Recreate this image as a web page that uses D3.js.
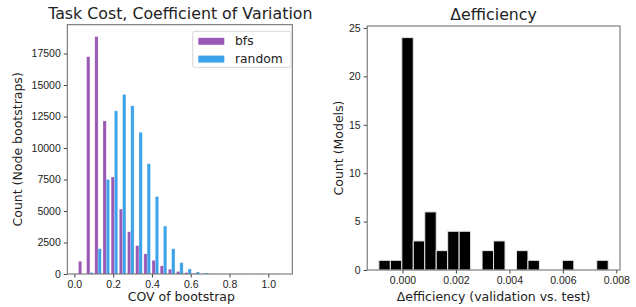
<!DOCTYPE html>
<html>
<head>
<meta charset="utf-8">
<script src="https://cdn.jsdelivr.net/npm/d3@7"></script>
<style>
  body { margin: 0; background: #fff; }
  svg { font-family: "DejaVu Sans", sans-serif; }
  .axis text { fill: #222; font-size: 10.5px; }
  .axis path, .axis line { stroke: #444; }
</style>
</head>
<body>
<div class="chart"></div>
<script>
// Left histogram: task cost COV, 25 bins shared by both series
const covBinLo = 0.017
const covBinHi = 1.071
const covBins = 25
const bfsCounts = [1000, 17250, 18850, 12150, 7700, 5150, 3350, 2250, 1600, 1080, 650, 380, 200, 110, 60, 30, 15, 8, 5, 3, 2, 1, 1, 0, 1]
const randomCounts = [0, 120, 2000, 7500, 12950, 14250, 13350, 11250, 8750, 6150, 3800, 2000, 900, 400, 160, 80, 30, 12, 5, 2, 1, 0, 0, 0, 1]
const seriesNames = ['bfs', 'random']
const seriesColors = ['#9b59b6', '#3ca2ea']
const covTicks = [0.0, 0.2, 0.4, 0.6, 0.8, 1.0]
const countTicks = [0, 2500, 5000, 7500, 10000, 12500, 15000, 17500]

// Right histogram: delta efficiency, 20 bins
const effBinLo = -0.000883
const effBinHi = 0.007697
const effBins = 20
const effCounts = [1, 1, 24, 3, 6, 2, 4, 4, 0, 2, 3, 0, 2, 1, 0, 0, 1, 0, 0, 1]
const effTicks = [0.000, 0.002, 0.004, 0.006, 0.008]
const modelTicks = [0, 5, 10, 15, 20, 25]

const width = 636
const height = 307
const labelSize = '12.5px'
const titleSize = '15.8px'

const svg = d3.select('.chart')
    .append('svg')
    .attr('width', width)
    .attr('height', height)

const frame = (g, x0, x1, y0, y1) => {
    g.append('rect')
        .attr('x', x0).attr('y', y0)
        .attr('width', x1 - x0).attr('height', y1 - y0)
        .attr('fill', 'none')
        .attr('stroke', '#666')
        .attr('stroke-width', 1)
}

// ---------- left panel ----------
const L = { left: 67.3, right: 292.3, top: 24.7, bottom: 274 }
const xL = d3.scaleLinear().domain([-0.0363, 1.1237]).range([L.left, L.right])
const yL = d3.scaleLinear().domain([0, 19790]).range([L.bottom, L.top])

const covW = (covBinHi - covBinLo) / covBins

const gL = svg.append('g')
;[bfsCounts, randomCounts].forEach((counts, s) => {
    const bins = counts.map((c, i) => ({ x0: covBinLo + i * covW, c }))
        .filter(d => d.c > 0)
    gL.selectAll('.bar' + s)
        .data(bins)
        .enter()
        .append('rect')
        .attr('x', d => xL(d.x0 + covW * (0.1 + 0.4 * s)))
        .attr('width', xL(covW * 0.4) - xL(0))
        .attr('y', d => yL(d.c))
        .attr('height', d => yL(0) - yL(d.c))
        .attr('fill', seriesColors[s])
        .attr('stroke', 'rgba(255,255,255,0.35)')
        .attr('stroke-width', 0.6)
})

gL.append('g')
    .attr('class', 'axis')
    .attr('transform', `translate(0,${L.bottom})`)
    .call(d3.axisBottom(xL).tickValues(covTicks).tickFormat(d3.format('.1f')).tickSizeOuter(0).tickSize(3.5).tickPadding(3))
    .call(g => g.select('.domain').remove())

gL.append('g')
    .attr('class', 'axis')
    .attr('transform', `translate(${L.left},0)`)
    .call(d3.axisLeft(yL).tickValues(countTicks).tickFormat(d3.format('d')).tickSizeOuter(0).tickSize(3.5).tickPadding(3))
    .call(g => g.select('.domain').remove())

frame(gL, L.left, L.right, L.top, L.bottom)

svg.append('text')
    .attr('x', (L.left + L.right) / 2 + 0.5)
    .attr('y', 19)
    .attr('text-anchor', 'middle')
    .style('font-size', titleSize)
    .style('fill', '#222')
    .text('Task Cost, Coefficient of Variation')

svg.append('text')
    .attr('x', (L.left + L.right) / 2 + 1.5)
    .attr('y', 300.5)
    .attr('text-anchor', 'middle')
    .style('font-size', labelSize)
    .style('fill', '#222')
    .text('COV of bootstrap')

svg.append('text')
    .attr('transform', `translate(22,${(L.top + L.bottom) / 2}) rotate(-90)`)
    .attr('text-anchor', 'middle')
    .style('font-size', labelSize)
    .style('fill', '#222')
    .text('Count (Node bootstraps)')

// legend
const leg = gL.append('g')
leg.append('rect')
    .attr('x', 192.7).attr('y', 31.3)
    .attr('width', 98.3).attr('height', 36)
    .attr('rx', 2)
    .attr('fill', '#fff')
    .attr('stroke', '#d6d6d6')
seriesNames.forEach((name, s) => {
    leg.append('rect')
        .attr('x', 198.3).attr('y', 37.8 + s * 17.8)
        .attr('width', 26).attr('height', 7)
        .attr('fill', seriesColors[s])
    leg.append('text')
        .attr('x', 235).attr('y', 45 + s * 17.8)
        .style('font-size', '12.3px')
        .style('fill', '#222')
        .text(name)
})

// ---------- right panel ----------
const R = { left: 367.2, right: 620, top: 26, bottom: 270 }
const xR = d3.scaleLinear().domain([-0.00132, 0.008138]).range([R.left, R.right])
const yR = d3.scaleLinear().domain([0, 25.2]).range([R.bottom, R.top])

const effW = (effBinHi - effBinLo) / effBins
const effData = effCounts.map((c, i) => ({ x0: effBinLo + i * effW, c }))
    .filter(d => d.c > 0)

const gR = svg.append('g')
gR.selectAll('.eff')
    .data(effData)
    .enter()
    .append('rect')
    .attr('x', d => xR(d.x0))
    .attr('width', xR(effW) - xR(0))
    .attr('y', d => yR(d.c))
    .attr('height', d => yR(0) - yR(d.c))
    .attr('fill', '#000')
    .attr('stroke', '#e6e6e6')
    .attr('stroke-width', 1)

gR.append('g')
    .attr('class', 'axis')
    .attr('transform', `translate(0,${R.bottom})`)
    .call(d3.axisBottom(xR).tickValues(effTicks).tickFormat(d3.format('.3f')).tickSizeOuter(0).tickSize(3.5).tickPadding(3))
    .call(g => g.select('.domain').remove())

gR.append('g')
    .attr('class', 'axis')
    .attr('transform', `translate(${R.left},0)`)
    .call(d3.axisLeft(yR).tickValues(modelTicks).tickSizeOuter(0).tickSize(3.5).tickPadding(3))
    .call(g => g.select('.domain').remove())

frame(gR, R.left, R.right, R.top, R.bottom)

svg.append('text')
    .attr('x', (R.left + R.right) / 2)
    .attr('y', 20)
    .attr('text-anchor', 'middle')
    .style('font-size', titleSize)
    .style('fill', '#222')
    .text('Δefficiency')

svg.append('text')
    .attr('x', (R.left + R.right) / 2)
    .attr('y', 300.5)
    .attr('text-anchor', 'middle')
    .style('font-size', labelSize)
    .style('fill', '#222')
    .text('Δefficiency (validation vs. test)')

svg.append('text')
    .attr('transform', `translate(343,${(R.top + R.bottom) / 2}) rotate(-90)`)
    .attr('text-anchor', 'middle')
    .style('font-size', labelSize)
    .style('fill', '#222')
    .text('Count (Models)')
</script>
</body>
</html>
